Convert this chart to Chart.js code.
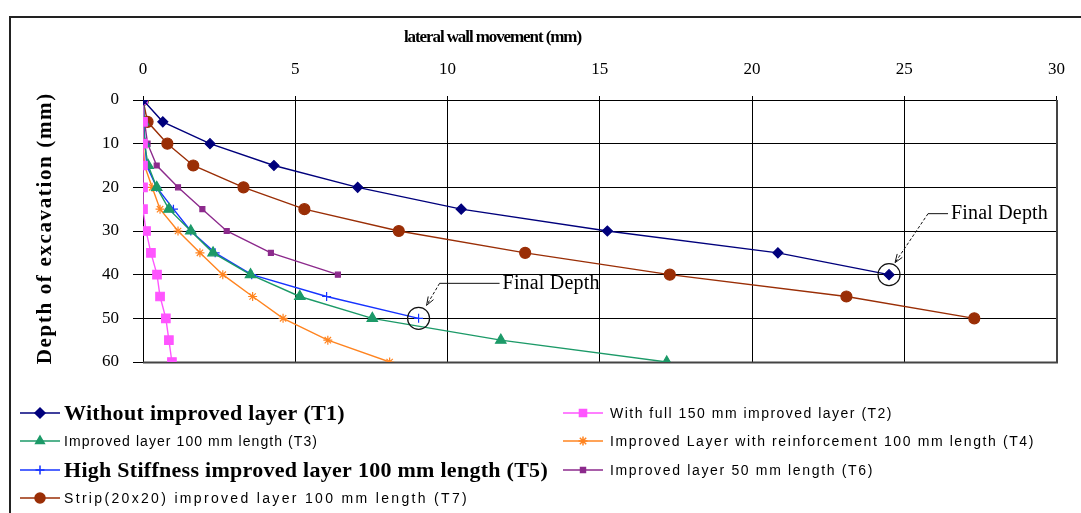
<!DOCTYPE html>
<html>
<head>
<meta charset="utf-8">
<script src="https://cdn.jsdelivr.net/npm/chart.js@4.4.1/dist/chart.umd.min.js"></script>
<style>
  html, body { margin: 0; padding: 0; background: #fff; }
</style>
</head>
<body>
<canvas id="myChart" width="1081" height="513"></canvas>
<script>
// depth of excavation (mm), one reading every 5 mm
const depths = [0, 5, 10, 15, 20, 25, 30, 35, 40, 45, 50, 55, 60];

// lateral wall movement (mm) per test
const t1 = [0, 0.65, 2.2, 4.3, 7.05, 10.45, 15.25, 20.85, 24.5];
const t2 = [0, 0, 0, 0, 0, 0, 0.1, 0.26, 0.46, 0.56, 0.75, 0.85, 0.95];
const t3 = [0, 0.02, 0.05, 0.17, 0.45, 0.85, 1.57, 2.3, 3.53, 5.15, 7.53, 11.75, 17.2];
const t4 = [0, 0, 0.02, 0.05, 0.3, 0.56, 1.15, 1.87, 2.62, 3.6, 4.6, 6.07, 8.1];
const t5 = [0, 0.02, 0.07, 0.12, 0.45, 1.0, 1.57, 2.37, 3.57, 6.03, 9.05];
const t6 = [0, 0.05, 0.15, 0.45, 1.15, 1.95, 2.75, 4.2, 6.4];
const t7 = [0, 0.15, 0.8, 1.65, 3.3, 5.3, 8.4, 12.55, 17.3, 23.1, 27.3];

const labels = [
  "Without improved layer (T1)",
  "With full 150 mm improved layer (T2)",
  "Improved layer 100 mm length (T3)",
  "Improved Layer with reinforcement 100 mm length (T4)",
  "High Stiffness improved layer 100 mm length (T5)",
  "Improved layer 50 mm length (T6)",
  "Strip(20x20) improved layer 100 mm length (T7)"
];

const xTicks = [0, 5, 10, 15, 20, 25, 30];
const yTicks = [0, 10, 20, 30, 40, 50, 60];

const SERIF = '"Liberation Serif", "Times New Roman", serif';
const SANS = '"Liberation Sans", Arial, sans-serif';

function toPoints(values) {
  return values.map((v, i) => ({ x: v, y: depths[i] }));
}

function series(label, values, color, style, radius, bigLabel) {
  return {
    label: label,
    data: toPoints(values),
    borderColor: color,
    backgroundColor: color,
    borderWidth: 1.4,
    pointStyle: style,
    pointRadius: radius,
    pointBorderWidth: 1.2,
    pointHoverRadius: radius,
    tension: 0,
    bigLabel: bigLabel
  };
}

const datasets = [
  series(labels[0], t1, "#00007c", "rectRot", 5, true),
  series(labels[1], t2, "#ff55ff", "rect", 6, false),
  series(labels[2], t3, "#1c9a68", "triangle", 6, false),
  series(labels[3], t4, "#ff8420", "star", 4.5, false),
  series(labels[4], t5, "#1633ff", "cross", 4.5, true),
  series(labels[5], t6, "#8c2a8c", "rect", 3.5, false),
  series(labels[6], t7, "#9a2e06", "circle", 5.5, false)
];

// draws text stretched or squeezed to a given width
function fitText(ctx, text, x, y, width, align) {
  ctx.letterSpacing = "0px";
  const w = ctx.measureText(text).width;
  const sp = (width - w) / text.length;
  ctx.letterSpacing = sp + "px";
  if (align === "left") {
    ctx.textAlign = "left";
    ctx.fillText(text, x, y);
  } else {
    ctx.textAlign = "center";
    ctx.fillText(text, x + sp / 2, y);
  }
  ctx.letterSpacing = "0px";
}

const framePlugin = {
  id: "frame",
  beforeDraw(chart) {
    const ctx = chart.ctx;
    ctx.save();
    ctx.fillStyle = "#fff";
    ctx.fillRect(0, 0, chart.width, chart.height);
    ctx.strokeStyle = "#222";
    ctx.lineWidth = 2;
    ctx.beginPath();
    ctx.moveTo(10, chart.height);
    ctx.lineTo(10, 17);
    ctx.lineTo(chart.width, 17);
    ctx.stroke();

    // axis titles
    ctx.fillStyle = "#000";
    ctx.textBaseline = "middle";
    ctx.font = "bold 17px " + SERIF;
    fitText(ctx, "lateral wall movement (mm)", 493, 38, 177);
    ctx.translate(46, 229);
    ctx.rotate(-Math.PI / 2);
    ctx.font = "bold 21px " + SERIF;
    fitText(ctx, "Depth of excavation (mm)", 0, 0, 272);
    ctx.restore();
  },
  beforeDatasetsDraw(chart) {
    const a = chart.chartArea;
    const ctx = chart.ctx;
    ctx.save();
    ctx.strokeStyle = "#444";
    ctx.lineWidth = 2;
    ctx.beginPath();
    ctx.moveTo(a.left, a.bottom + 0.5);
    ctx.lineTo(a.right + 0.5, a.bottom + 0.5);
    ctx.lineTo(a.right + 0.5, a.top);
    ctx.stroke();
    ctx.restore();
  }
};

// "Final Depth" markers on the last reading of T1 and T5
const calloutPlugin = {
  id: "callout",
  afterDatasetsDraw(chart) {
    const ctx = chart.ctx;
    const xs = chart.scales.x;
    const ys = chart.scales.y;
    const marks = [
      { x: t1[t1.length - 1], y: depths[t1.length - 1], tip: [6, -12], bend: [39, -61], end: [59, -61] },
      { x: t5[t5.length - 1], y: depths[t5.length - 1], tip: [8, -13], bend: [21, -35], end: [81, -35] }
    ];
    ctx.save();
    marks.forEach(m => {
      const px = xs.getPixelForValue(m.x);
      const py = ys.getPixelForValue(m.y);
      ctx.strokeStyle = "#111";
      ctx.lineWidth = 1.2;
      ctx.beginPath();
      ctx.arc(px, py, 11, 0, Math.PI * 2);
      ctx.stroke();

      const tx = px + m.tip[0], ty = py + m.tip[1];
      const bx = px + m.bend[0], by = py + m.bend[1];
      const ex = px + m.end[0], ey = py + m.end[1];
      ctx.lineWidth = 1;
      ctx.setLineDash([3, 2]);
      ctx.beginPath();
      ctx.moveTo(bx, by);
      ctx.lineTo(tx, ty);
      ctx.stroke();
      ctx.setLineDash([]);
      ctx.beginPath();
      ctx.moveTo(bx, by);
      ctx.lineTo(ex, ey);
      ctx.stroke();

      // open arrow head
      const ang = Math.atan2(ty - by, tx - bx);
      ctx.beginPath();
      ctx.moveTo(tx - 9 * Math.cos(ang - 0.35), ty - 9 * Math.sin(ang - 0.35));
      ctx.lineTo(tx, ty);
      ctx.lineTo(tx - 9 * Math.cos(ang + 0.35), ty - 9 * Math.sin(ang + 0.35));
      ctx.stroke();

      ctx.fillStyle = "#000";
      ctx.font = "20px " + SERIF;
      ctx.textBaseline = "middle";
      fitText(ctx, "Final Depth", ex + 3, ey, 97, "left");
    });
    ctx.restore();
  }
};

// two-column legend under the plot
const legendPlugin = {
  id: "sideLegend",
  afterDraw(chart) {
    const ctx = chart.ctx;
    const colX = [20, 563];
    const textX = [64, 610];
    const rowY = [413, 441, 470, 498];
    const slots = [[0, 0], [1, 0], [0, 1], [1, 1], [0, 2], [1, 2], [0, 3]];
    const textW = [281, 283, 254, 425, 484, 264, 405];
    ctx.save();
    chart.data.datasets.forEach((ds, i) => {
      const [c, r] = slots[i];
      const x0 = colX[c], y = rowY[r];
      ctx.strokeStyle = ds.borderColor;
      ctx.fillStyle = ds.backgroundColor;
      ctx.lineWidth = 1.5;
      ctx.beginPath();
      ctx.moveTo(x0, y);
      ctx.lineTo(x0 + 40, y);
      ctx.stroke();
      Chart.helpers.drawPoint(ctx, {
        pointStyle: ds.pointStyle,
        radius: Math.min(ds.pointRadius, 5),
        rotation: 0,
        borderWidth: 1
      }, x0 + 20, y);

      ctx.fillStyle = "#000";
      ctx.textBaseline = "middle";
      ctx.font = ds.bigLabel ? "bold 22px " + SERIF : "14px " + SANS;
      fitText(ctx, ds.label, textX[c], y + 1, textW[i], "left");
    });
    ctx.restore();
  }
};

const ctx = document.getElementById("myChart");

new Chart(ctx, {
  type: "line",
  data: { datasets: datasets },
  plugins: [framePlugin, calloutPlugin, legendPlugin],
  options: {
    responsive: false,
    animation: false,
    devicePixelRatio: 1,
    layout: { padding: { left: 9, top: 16, right: 14, bottom: 151 } },
    plugins: {
      legend: { display: false },
      tooltip: { enabled: false }
    },
    scales: {
      x: {
        type: "linear",
        position: "top",
        min: 0,
        max: 30,
        afterBuildTicks: s => { s.ticks = xTicks.map(v => ({ value: v })); },
        afterFit: s => { s.height = 84; },
        ticks: { color: "#000", padding: 16, font: { family: SERIF, size: 17 } },
        grid: { color: "#000", lineWidth: 1, tickLength: 4 },
        border: { display: false }
      },
      y: {
        type: "linear",
        reverse: true,
        min: 0,
        max: 60,
        afterBuildTicks: s => { s.ticks = yTicks.map(v => ({ value: v })); },
        afterFit: s => { s.width = 134; },
        ticks: { color: "#000", padding: 14, font: { family: SERIF, size: 17 } },
        grid: { color: "#000", lineWidth: 1, tickLength: 10 },
        border: { display: false }
      }
    }
  }
});
</script>
</body>
</html>
